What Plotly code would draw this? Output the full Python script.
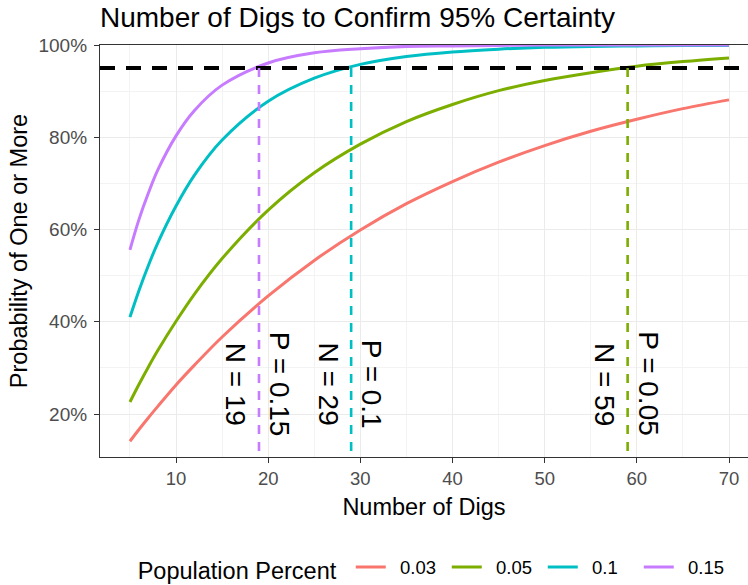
import plotly.graph_objects as go

# ---- data ----
digs = [5, 6, 7, 8, 10, 12, 15, 20, 25, 30, 35, 40, 45, 50, 55, 60, 65, 70]
prob_003 = [0.141, 0.167, 0.192, 0.216, 0.263, 0.306, 0.367, 0.456, 0.533, 0.599,
            0.656, 0.704, 0.746, 0.782, 0.813, 0.839, 0.862, 0.881]
prob_005 = [0.226, 0.265, 0.302, 0.337, 0.401, 0.460, 0.537, 0.642, 0.723, 0.785,
            0.834, 0.871, 0.901, 0.923, 0.940, 0.954, 0.964, 0.972]
prob_010 = [0.410, 0.469, 0.522, 0.570, 0.651, 0.718, 0.794, 0.878, 0.928, 0.958,
            0.975, 0.985, 0.991, 0.995, 0.997, 0.998, 0.999, 0.999]
prob_015 = [0.556, 0.623, 0.679, 0.728, 0.803, 0.858, 0.913, 0.961, 0.983, 0.992,
            0.997, 0.998, 0.999, 1.000, 1.000, 1.000, 1.000, 1.000]

series_names = ["0.03", "0.05", "0.1", "0.15"]
series_values = [prob_003, prob_005, prob_010, prob_015]
series_colors = ["#F8766D", "#7CAE00", "#00BFC4", "#C77CFF"]

target = 0.95
threshold_n = [19, 29, 59]
threshold_p = ["0.15", "0.1", "0.05"]
threshold_colors = ["#C77CFF", "#00BFC4", "#7CAE00"]

x_ticks = [10, 20, 30, 40, 50, 60, 70]
y_ticks = [0.2, 0.4, 0.6, 0.8, 1.0]

FONT = "Liberation Sans, Arial, sans-serif"
X_RANGE = [1.75, 72.06]
Y_RANGE = [0.1068, 1.0]

fig = go.Figure()
for name, vals, col in zip(series_names, series_values, series_colors):
    fig.add_trace(go.Scatter(
        x=digs, y=vals, name="\u2002" + name, mode="lines",
        line=dict(color=col, width=3, shape="spline", smoothing=1.0),
        hovertemplate="%{x}, %{y}<extra>" + name + "</extra>",
    ))

# target line
fig.add_shape(type="line", xref="paper", yref="y", x0=0, x1=1, y0=target, y1=target,
              line=dict(color="black", width=4, dash="15px,11px"), layer="above")

# threshold segments and labels
for n, p, col in zip(threshold_n, threshold_p, threshold_colors):
    fig.add_shape(type="line", xref="x", yref="y", x0=n, x1=n, y0=target, y1=Y_RANGE[0],
                  line=dict(color=col, width=2.6, dash="9px,8px"), layer="above")
    fig.add_annotation(x=n - 2.45, y=0.265, xref="x", yref="y", text=f"N = {n}",
                       textangle=90, showarrow=False, xanchor="center", yanchor="middle",
                       font=dict(family=FONT, size=28, color="black"))
    fig.add_annotation(x=n + 2.3, y=0.265, xref="x", yref="y", text=f"P = {p}",
                       textangle=90, showarrow=False, xanchor="center", yanchor="middle",
                       font=dict(family=FONT, size=28, color="black"))

fig.update_layout(
    width=748, height=585,
    margin=dict(l=100, r=0, t=45, b=128, autoexpand=False),
    paper_bgcolor="white", plot_bgcolor="white",
    font=dict(family=FONT, color="black"),
    title=dict(text="Number of Digs to Confirm 95% Certainty",
               x=0, xref="paper", xanchor="left",
               y=1 - 17 / 585, yref="container", yanchor="middle",
               font=dict(size=28, color="black")),
    showlegend=True,
    legend=dict(orientation="h", x=0.518, xanchor="center", y=-0.272, yanchor="middle",
                title=dict(text="Population Percent ", side="left",
                           font=dict(size=23.5, color="black")),
                font=dict(size=18.5, color="black"), itemwidth=30,
                entrywidth=51, entrywidthmode="pixels",
                bgcolor="rgba(0,0,0,0)"),
    xaxis=dict(range=X_RANGE, tickvals=x_ticks, showgrid=True, gridcolor="#EBEBEB",
               gridwidth=1.2,
               minor=dict(dtick=5, tick0=0, showgrid=True, gridcolor="#F3F3F3", gridwidth=0.6),
               showline=True, linecolor="#333333", linewidth=1.2, mirror=True,
               ticks="outside", ticklen=5, tickcolor="#333333", tickwidth=1.2,
               tickfont=dict(size=18.5, color="#4D4D4D"),
               zeroline=False,
               title=dict(text="Number of Digs", font=dict(size=23.5, color="black"), standoff=10)),
    yaxis=dict(range=Y_RANGE, tickvals=y_ticks, tickformat=".0%", showgrid=True,
               gridcolor="#EBEBEB", gridwidth=1.2,
               minor=dict(dtick=0.1, tick0=0, showgrid=True, gridcolor="#F3F3F3", gridwidth=0.6),
               showline=True, linecolor="#333333", linewidth=1.2,
               ticks="outside", ticklen=5, tickcolor="#333333", tickwidth=1.2,
               tickfont=dict(size=19, color="#4D4D4D"), ticklabelstandoff=3,
               zeroline=False,
               title=dict(text="Probability of One or More", font=dict(size=23.5, color="black"),
                          standoff=4)),
)

fig.write_html("out.html")
